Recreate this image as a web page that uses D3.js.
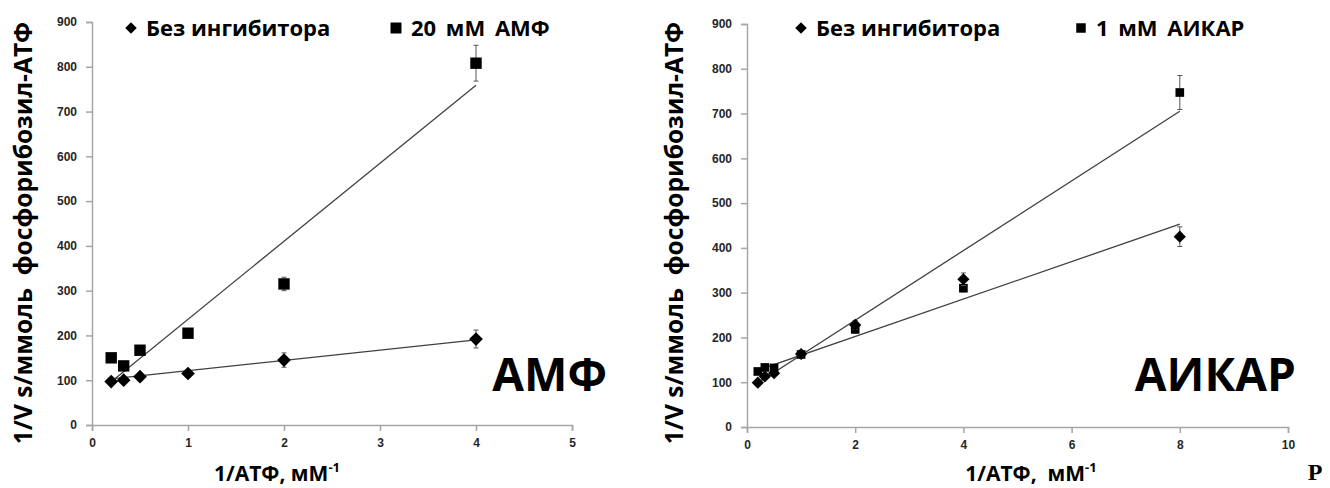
<!DOCTYPE html>
<html>
<head>
<meta charset="utf-8">
<script src="https://cdn.jsdelivr.net/npm/d3@7"></script>
<style>
  body { margin: 0; background: #fff; }
  svg text { font-family: "Open Sans", "DejaVu Sans", sans-serif; font-weight: bold; }
</style>
</head>
<body>
<div id="chart"></div>
<script>
// ---- data ----
var amfX = [0.2, 0.33, 0.5, 1, 2, 4];
var amfNoInh = [97, 100, 108, 115, 145, 192];
var amfNoInhErr = [4, 4, 5, 8, 16, 20];
var amfInh = [150, 132, 167, 205, 315, 808];
var amfInhErr = [4, 4, 6, 6, 15, 40];
var amfFitNoInh = [[0.2, 103], [4, 190]];
var amfFitInh = [[0.22, 100], [4, 759]];

var aicarX = [0.2, 0.33, 0.5, 1, 2, 4, 8];
var aicarNoInh = [99, 113, 120, 163, 228, 330, 425];
var aicarNoInhErr = [5, 5, 5, 8, 10, 14, 22];
var aicarInh = [124, 133, 132, 162, 218, 310, 747];
var aicarInhErr = [5, 5, 5, 6, 8, 8, 38];
var aicarFitNoInh = [[0.18, 126], [8, 453]];
var aicarFitInh = [[0.18, 97], [8, 705]];

var yTicks = [0, 100, 200, 300, 400, 500, 600, 700, 800, 900];
var amfXTicks = [0, 1, 2, 3, 4, 5];
var aicarXTicks = [0, 2, 4, 6, 8, 10];

var svg = d3.select("#chart")
  .append("svg")
  .attr("width", 1330)
  .attr("height", 488);

function drawPanel(p) {
  var x = d3.scaleLinear().domain(p.xDomain).range([p.left, p.right]);
  var y = d3.scaleLinear().domain([0, 900]).range([p.bottom, p.top]);

  // axes
  var xAxis = svg.append("g")
    .attr("transform", `translate(0, ${p.bottom})`)
    .call(d3.axisBottom(x).tickValues(p.xTicks).tickSize(6).tickPadding(7).tickFormat(d3.format("d")));
  var yAxis = svg.append("g")
    .attr("transform", `translate(${p.left}, 0)`)
    .call(d3.axisLeft(y).tickValues(yTicks).tickSize(6).tickPadding(9).tickFormat(d3.format("d")));
  [xAxis, yAxis].forEach(function(a) {
    a.select(".domain").attr("stroke", "#a6a6a6").attr("stroke-width", 1.5);
    a.selectAll(".tick line").attr("stroke", "#a6a6a6").attr("stroke-width", 1.5);
    a.selectAll(".tick text")
      .attr("fill", "#262626")
      .style("font-family", "'Liberation Sans', Arial, sans-serif")
      .style("font-size", "12px");
  });

  // fit lines
  [p.fitInh, p.fitNoInh].forEach(function(f) {
    svg.append("line")
      .attr("x1", x(f[0][0])).attr("y1", y(f[0][1]))
      .attr("x2", x(f[1][0])).attr("y2", y(f[1][1]))
      .attr("stroke", "#404040")
      .attr("stroke-width", 1.3);
  });

  // error bars + markers
  function series(vals, errs, sym) {
    var g = svg.append("g");
    var data = p.xs.map(function(d, i) { return { x: d, y: vals[i], e: errs[i] }; });
    var eb = g.selectAll(".eb").data(data).enter().append("g");
    eb.append("line")
      .attr("x1", d => x(d.x)).attr("x2", d => x(d.x))
      .attr("y1", d => y(d.y - d.e)).attr("y2", d => y(d.y + d.e))
      .attr("stroke", "#555").attr("stroke-width", 1);
    [-1, 1].forEach(function(s) {
      eb.append("line")
        .attr("x1", d => x(d.x) - 2.5).attr("x2", d => x(d.x) + 2.5)
        .attr("y1", d => y(d.y + s * d.e)).attr("y2", d => y(d.y + s * d.e))
        .attr("stroke", "#555").attr("stroke-width", 1);
    });
    g.selectAll("path").data(data).enter().append("path")
      .attr("d", sym)
      .attr("transform", d => `translate(${x(d.x)}, ${y(d.y)})`)
      .attr("fill", "#000");
  }
  series(p.inh, p.inhErr, p.square);
  series(p.noInh, p.noInhErr, p.diamond);

  // legend
  svg.append("path").attr("d", d3.symbol().type(d3.symbolDiamond2).size(85))
    .attr("transform", `translate(${p.legX1}, 28)`).attr("fill", "#000");
  svg.append("text").attr("x", p.legX1 + 15).attr("y", 36)
    .style("font-size", "22px").text("Без ингибитора");
  svg.append("path").attr("d", d3.symbol().type(d3.symbolSquare).size(p.legSq))
    .attr("transform", `translate(${p.legX2}, 28)`).attr("fill", "#000");
  svg.append("text").attr("x", p.legX2 + 15).attr("y", 36)
    .style("font-size", "22px").style("word-spacing", "4px").text(p.legText);

  // big panel label
  svg.append("text").attr("x", p.bigX).attr("y", 391)
    .attr("text-anchor", "end")
    .style("font-size", "46px").text(p.big);

  // axis titles
  svg.append("text")
    .attr("transform", `translate(${p.yTitleX}, 233) rotate(-90)`)
    .attr("text-anchor", "middle")
    .style("font-size", "24.5px")
    .text("1/V s/ммоль\u00a0\u00a0фосфорибозил-АТФ");
  var xt = svg.append("text")
    .attr("x", p.xTitleX).attr("y", 481)
    .attr("text-anchor", "middle")
    .style("font-size", "21px")
    .text(p.xTitle);
  xt.append("tspan").attr("dy", -9).style("font-size", "13px").text("-1");
}

drawPanel({
  xDomain: [0, 5], left: 92, right: 572, top: 22, bottom: 425,
  xTicks: amfXTicks, xs: amfX,
  noInh: amfNoInh, noInhErr: amfNoInhErr, inh: amfInh, inhErr: amfInhErr,
  fitNoInh: amfFitNoInh, fitInh: amfFitInh,
  diamond: d3.symbol().type(d3.symbolDiamond2).size(120),
  square: d3.symbol().type(d3.symbolSquare).size(130),
  legX1: 131, legX2: 396, legSq: 120, legText: "20 мМ АМФ",
  big: "АМФ", bigX: 607,
  yTitleX: 32, xTitleX: 277, xTitle: "1/АТФ, мМ"
});

drawPanel({
  xDomain: [0, 10], left: 747, right: 1288, top: 24, bottom: 427,
  xTicks: aicarXTicks, xs: aicarX,
  noInh: aicarNoInh, noInhErr: aicarNoInhErr, inh: aicarInh, inhErr: aicarInhErr,
  fitNoInh: aicarFitNoInh, fitInh: aicarFitInh,
  diamond: d3.symbol().type(d3.symbolDiamond2).size(95),
  square: d3.symbol().type(d3.symbolSquare).size(75),
  legX1: 801, legX2: 1081, legSq: 90, legText: "1 мМ АИКАР",
  big: "АИКАР", bigX: 1296,
  yTitleX: 683, xTitleX: 1031, xTitle: "1/АТФ,\u00a0\u00a0мМ"
});

svg.append("text")
  .attr("x", 1315).attr("y", 480)
  .attr("text-anchor", "middle")
  .style("font-family", "'Liberation Serif', 'Times New Roman', serif")
  .style("font-size", "24px")
  .text("P");
</script>
</body>
</html>
